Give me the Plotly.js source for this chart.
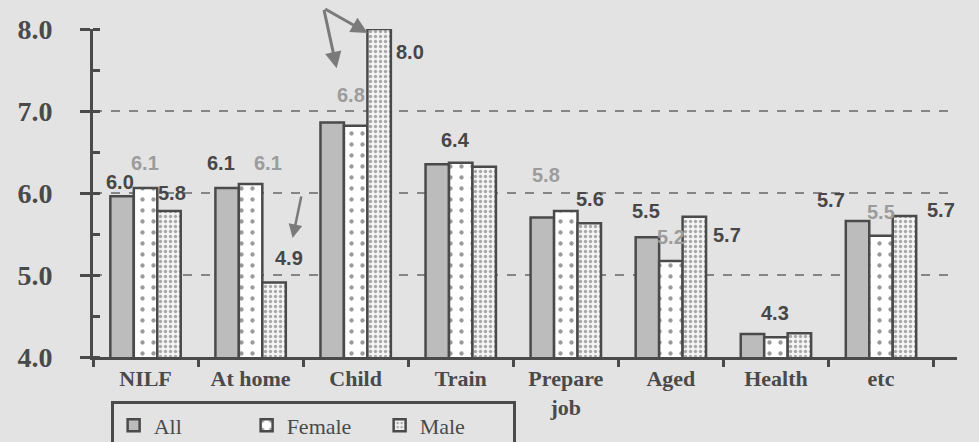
<!DOCTYPE html>
<html>
<head>
<meta charset="utf-8">
<script src="https://cdn.plot.ly/plotly-3.0.1.min.js"></script>
<style>
  html, body { margin: 0; padding: 0; background: #e3e3e3; }
  #chart { width: 979px; height: 442px; }
</style>
</head>
<body>
<div id="chart"></div>
<script>
// ---- data ----
const categories = ['NILF', 'At home', 'Child', 'Train', 'Prepare<br>job', 'Aged', 'Health', 'etc'];
const seriesNames = ['All', 'Female', 'Male'];
const allValues    = [5.96, 6.06, 6.86, 6.35, 5.70, 5.46, 4.28, 5.66];
const femaleValues = [6.06, 6.11, 6.82, 6.37, 5.78, 5.17, 4.24, 5.48];
const maleValues   = [5.78, 4.91, 8.00, 6.32, 5.63, 5.71, 4.29, 5.72];
const yTicks = [4, 5, 6, 7, 8];

// value labels shown in the reference: [category index, series index, dx px, dy px, tone]
const labelSpecs = [
  [0, 0, -26, 14, 'dark'], [0, 1, -1, 25, 'light'], [0, 2, 26, 18, 'dark'],
  [1, 0, -30, 25, 'dark'], [1, 1, 17, 21, 'light'], [1, 2, 38, 24, 'dark'],
  [2, 1, -5, 31, 'light'], [2, 2, 54, -23, 'dark'],
  [3, 1, -5, 23, 'dark'],
  [4, 1, -20, 36, 'light'], [4, 2, 24, 24, 'dark'],
  [5, 0, -25, 26, 'dark'], [5, 1, 0, 24, 'light'], [5, 2, 56, -18, 'dark'],
  [6, 0, -1, 21, 'dark'],
  [7, 0, -50, 21, 'dark'], [7, 1, 0, 24, 'light'], [7, 2, 60, 6, 'dark']
];

const seriesValues = [allValues, femaleValues, maleValues];
const edge = {color: '#4a4a4a', width: 2.5};
const serif = 'Liberation Serif, Times New Roman, serif';

const traces = [
  {type: 'bar', name: seriesNames[0], x: categories, y: allValues,
   marker: {color: '#bcbcbc', line: edge}},
  {type: 'bar', name: seriesNames[1], x: categories, y: femaleValues,
   marker: {color: '#ffffff', line: edge,
            pattern: {shape: '.', bgcolor: '#ffffff', fgcolor: '#9a9a9a', size: 11, solidity: 0.12}}},
  {type: 'bar', name: seriesNames[2], x: categories, y: maleValues,
   marker: {color: '#f2f2f2', line: edge,
            pattern: {shape: '.', bgcolor: '#f4f4f4', fgcolor: '#a8a8a8', size: 5, solidity: 0.35}}}
];

const annotations = labelSpecs.map(([ci, si, dx, dy, tone]) => ({
  x: categories[ci], y: seriesValues[si][ci], xref: 'x', yref: 'y',
  text: seriesValues[si][ci].toFixed(1), showarrow: false,
  xshift: dx, yshift: dy, xanchor: 'center', yanchor: 'middle',
  font: {family: 'Liberation Sans, Arial, sans-serif', size: 20, weight: 'bold',
         color: tone === 'dark' ? '#474747' : '#9c9c9c'}
}));

// decorative arrows
const arrowStyle = {showarrow: true, text: '', arrowhead: 2, arrowsize: 1.1,
                    arrowwidth: 3, arrowcolor: '#7a7a7a', xref: 'x', yref: 'y'};
annotations.push(Object.assign({}, arrowStyle, {x: categories[2], y: 7.95, xshift: 12, ax: -44, ay: -25}));
annotations.push(Object.assign({}, arrowStyle, {x: categories[2], y: 7.52, xshift: -19, ax: -13, ay: -60}));
annotations.push(Object.assign({}, arrowStyle, {x: categories[1], y: 5.45, xshift: 42, ax: 9, ay: -43, arrowwidth: 2.5}));

const layout = {
  width: 979, height: 442,
  font: {family: serif, color: '#4a4a4a'},
  margin: {l: 93, r: 22, t: 29, b: 85, autoexpand: false},
  paper_bgcolor: '#e3e3e3',
  plot_bgcolor: '#e3e3e3',
  barmode: 'group',
  bargap: 0.33,
  bargroupgap: 0,
  showlegend: true,
  legend: {
    orientation: 'h', xref: 'container', yref: 'container',
    x: 0.113, xanchor: 'left', y: 0.092, yanchor: 'top',
    bordercolor: '#4a4a4a', borderwidth: 3, bgcolor: 'rgba(0,0,0,0)',
    font: {family: serif, size: 22, color: '#4a4a4a'},
    itemwidth: 30, entrywidth: 88, entrywidthmode: 'pixels', traceorder: 'normal'
  },
  xaxis: {
    type: 'category',
    showline: true, linecolor: '#4a4a4a', linewidth: 3,
    ticks: 'outside', tickson: 'boundaries', ticklen: 7, tickwidth: 3, tickcolor: '#4a4a4a',
    showgrid: false, zeroline: false,
    tickfont: {family: serif, size: 22, weight: 'bold', color: '#4a4a4a'}
  },
  yaxis: {
    range: [4, 8], tickvals: yTicks, ticktext: yTicks.map(v => v.toFixed(1)),
    showline: true, linecolor: '#4a4a4a', linewidth: 3,
    ticks: 'outside', ticklen: 10, tickwidth: 3, tickcolor: '#4a4a4a',
    minor: {dtick: 0.5, ticks: 'inside', ticklen: 7, tickwidth: 3, tickcolor: '#4a4a4a', showgrid: false},
    showgrid: true, gridcolor: '#858585', gridwidth: 2, griddash: 'dash',
    zeroline: false, ticklabelstandoff: 22,
    tickfont: {family: serif, size: 28, weight: 'bold', color: '#4a4a4a'}
  },
  annotations: annotations
};

Plotly.newPlot('chart', traces, layout, {displayModeBar: false, staticPlot: true});
</script>
</body>
</html>
